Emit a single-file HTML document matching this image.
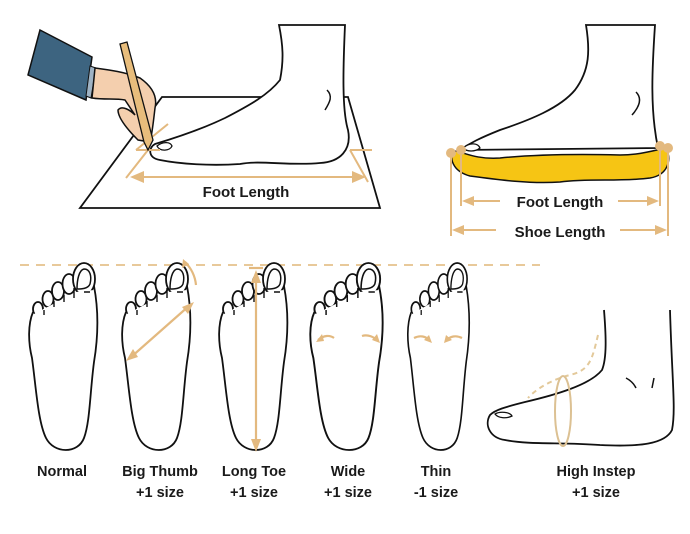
<!DOCTYPE html>
<html><head><meta charset="utf-8"><style>
html,body{margin:0;padding:0;background:#fff;}
svg{display:block;}
text{font-family:"Liberation Sans",Arial,sans-serif;font-weight:bold;fill:#1a1a1a;}
</style></head><body>
<svg width="690" height="534" viewBox="0 0 690 534" xmlns="http://www.w3.org/2000/svg">
<defs>
<g id="sole">
  <g fill="#fff" stroke="#111" stroke-width="1.8">
    <ellipse cx="12" cy="47" rx="5" ry="7"/>
    <ellipse cx="22" cy="37" rx="5.5" ry="8"/>
    <ellipse cx="32" cy="29" rx="6" ry="9"/>
    <ellipse cx="43" cy="22" rx="6.5" ry="10"/>
    <ellipse cx="58" cy="17" rx="11" ry="16"/>
  </g>
  <path d="M7,50 C2,62 2,80 6,96 C10,125 12,160 20,176 C28,192 52,192 58,176 C64,160 64,130 68,100 C73,70 72,45 68,28 L50,30 L8,52 Z" fill="#fff"/>
  <path d="M7,50 C2,62 2,80 6,96 C10,125 12,160 20,176 C28,192 52,192 58,176 C64,160 64,130 68,100 C73,70 72,45 68,24" fill="none" stroke="#111" stroke-width="1.8"/>
  <path d="M51,27 C51,18 53,8 58,7 C64,7 66,14 64,22 C62,27 55,27 51,27Z" fill="none" stroke="#111" stroke-width="1.5"/>
  <path d="M48,26 L48,36 M38,33 L38,40 M28,39 L28,45 M18,48 L18,53 M58,30 L64,30" stroke="#111" stroke-width="1.4"/>
</g>
</defs>

<!-- TOP LEFT -->
<polygon points="162,97 348,97 380,208 80,208" fill="#fff" stroke="#111" stroke-width="1.8"/>
<path d="M279,25 L345,25 C343,70 342,110 348,130 C352,150 340,162 320,163 C290,166 260,160 240,164 C210,166 180,164 160,160 C148,158 148,148 155,144 C175,138 200,130 225,118 C250,105 268,95 280,80 C284,60 283,45 279,25Z" fill="#fff" stroke="#111" stroke-width="1.8"/>
<path d="M327,90 C333,96 330,102 325,110" fill="none" stroke="#111" stroke-width="1.5"/>
<path d="M157,146 C162,142 170,141 172,146 C170,151 160,152 157,146Z" fill="#fff" stroke="#111" stroke-width="1.3"/>
<g stroke="#e3b97f" stroke-width="2" fill="none">
  <path d="M136,150 L168,124 M126,178 L148,150 M136,150 L160,150 M350,150 L372,150 M350,150 L368,182"/>
  <path d="M140,177 L358,177"/>
</g>
<path d="M130,177 L144,171 L144,183Z M366,177 L352,171 L352,183Z" fill="#e3b97f"/>
<text x="246" y="197" font-size="15" text-anchor="middle">Foot Length</text>
<!-- hand -->
<path d="M40,30 L92,57 L86,100 L28,75 Z" fill="#3d6480" stroke="#111" stroke-width="1.5"/>
<path d="M90,66 L96,68 L91,98 L86,96Z" fill="#9fb3c4" stroke="#111" stroke-width="1"/>
<path d="M95,68 C110,70 125,72 140,78 C150,85 158,95 155,108 C153,125 152,135 150,142 L138,140 C128,130 118,118 118,110 C122,105 130,110 135,115 L125,100 C115,98 105,100 92,98Z" fill="#f4cfae" stroke="#111" stroke-width="1.5"/>
<path d="M120,44 L127,42 L153,140 L148,150 L144,142 Z" fill="#e8bd7c" stroke="#111" stroke-width="1.3"/>

<!-- TOP RIGHT -->
<path d="M586,25 L655,25 C652,70 650,110 658,148 L460,150 C470,143 480,138 500,130 C530,120 560,108 575,90 C590,70 590,50 586,25Z" fill="#fff" stroke="#111" stroke-width="1.8"/>
<path d="M636,92 C642,98 640,106 632,115" fill="none" stroke="#111" stroke-width="1.5"/>
<path d="M463,148 C470,142 478,143 480,148 C475,152 467,152 463,148Z" fill="#fff" stroke="#111" stroke-width="1.3"/>
<path d="M452,152 C458,148 470,160 500,158 C540,154 580,154 620,155 C640,155 655,150 666,148 C672,160 668,175 650,178 C620,182 590,178 560,182 C530,184 500,180 470,176 C455,172 450,162 452,152Z" fill="#f6c514" stroke="#111" stroke-width="1.5"/>
<g fill="#e3b97f"><circle cx="451" cy="153" r="5"/><circle cx="461" cy="150" r="5"/><circle cx="660" cy="146" r="5"/><circle cx="668" cy="148" r="5"/></g>
<g stroke="#e3b97f" stroke-width="2" fill="none">
  <path d="M461,155 L461,206 M660,150 L660,206 M451,156 L451,236 M668,152 L668,236"/>
  <path d="M468,201 L500,201 M618,201 L652,201 M458,230 L496,230 M620,230 L660,230"/>
</g>
<path d="M462,201 L474,196 L474,206Z M659,201 L647,196 L647,206Z M452,230 L464,225 L464,235Z M667,230 L655,225 L655,235Z" fill="#e3b97f"/>
<text x="560" y="207" font-size="15" text-anchor="middle">Foot Length</text>
<text x="560" y="237" font-size="15" text-anchor="middle">Shoe Length</text>

<!-- dashed line -->
<path d="M20,265 L540,265" stroke="#e8c99a" stroke-width="2" stroke-dasharray="9,7"/>

<!-- soles -->
<use href="#sole" transform="translate(26,262)"/>
<use href="#sole" transform="translate(119,262)"/>
<use href="#sole" transform="translate(216,262)"/>
<use href="#sole" transform="translate(307,262) scale(1.06,1)"/>
<use href="#sole" transform="translate(405,262) scale(0.9,1)"/>

<!-- arrows -->
<g stroke="#e3b97f" stroke-width="2.2" fill="none">
  <path d="M130,358 L190,305"/>
  <path d="M196,285 C195,275 191,268 185,262"/>
  <path d="M256,280 L256,446"/>
  <path d="M249,268 L263,268"/>
  <path d="M318,340 C324,335 330,335 334,338 M362,336 C368,334 374,337 378,341"/>
  <path d="M414,338 C420,335 426,336 430,341 M446,341 C450,336 456,335 462,338"/>
</g>
<path d="M126,361 L133,349 L138,357Z M194,302 L182,307 L188,314Z M256,270 L251,283 L261,283Z M256,452 L251,439 L261,439Z" fill="#e3b97f"/>
<path d="M183,259 L182,268 L189,264Z M316,342 L322,334 L324,341Z M380,343 L372,340 L377,334Z M432,343 L424,340 L429,335Z M444,343 L446,335 L452,340Z" fill="#e3b97f"/>

<!-- high instep -->
<path d="M604,310 C606,335 607,358 602,370 C590,385 555,395 525,402 C505,407 495,410 490,415 C484,425 490,438 505,440 C530,445 560,442 600,445 C640,447 665,444 672,430 C676,410 672,380 670,310" fill="none" stroke="#111" stroke-width="1.8"/>
<path d="M495,414 C500,411 510,412 512,416 C506,419 498,418 495,414Z" fill="#fff" stroke="#111" stroke-width="1.3"/>
<path d="M626,378 C630,380 634,384 636,388 M654,378 L652,388" fill="none" stroke="#111" stroke-width="1.5"/>
<path d="M598,335 C592,360 590,370 570,375 C550,380 535,390 528,398" fill="none" stroke="#e3c99a" stroke-width="2" stroke-dasharray="5,4"/>
<ellipse cx="563" cy="411" rx="8" ry="35" fill="none" stroke="#dcc193" stroke-width="2"/>

<!-- labels -->
<g font-size="14.5" text-anchor="middle">
<text x="62" y="476">Normal</text>
<text x="160" y="476">Big Thumb</text>
<text x="160" y="497">+1 size</text>
<text x="254" y="476">Long Toe</text>
<text x="254" y="497">+1 size</text>
<text x="348" y="476">Wide</text>
<text x="348" y="497">+1 size</text>
<text x="436" y="476">Thin</text>
<text x="436" y="497">-1 size</text>
<text x="596" y="476">High Instep</text>
<text x="596" y="497">+1 size</text>
</g>
</svg>
</body></html>
